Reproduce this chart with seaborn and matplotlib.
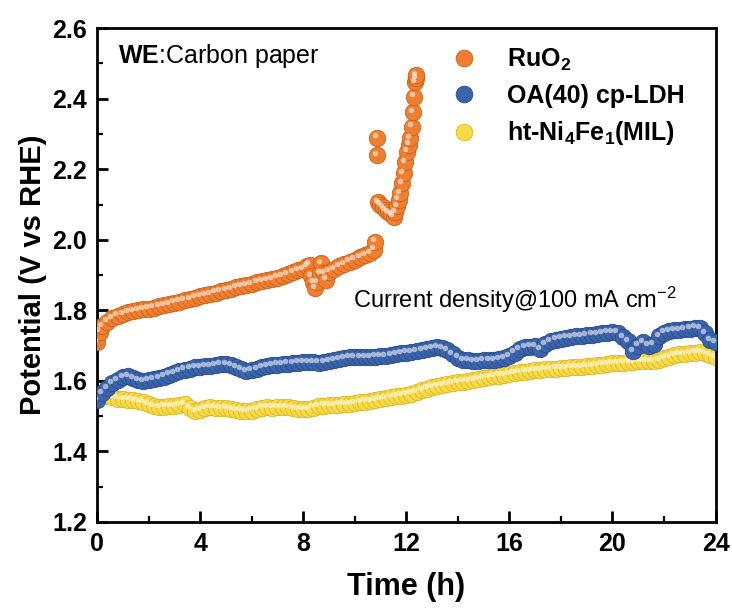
import numpy as np
import pandas as pd
import seaborn as sns
import matplotlib
matplotlib.use("Agg")
import matplotlib.pyplot as plt
from matplotlib.transforms import offset_copy
from matplotlib.lines import Line2D
from matplotlib.ticker import MultipleLocator

# ---------------- data ----------------
ruo2_t = [0.0, 0.1, 0.2, 0.4, 0.6, 0.8, 1.0, 1.2, 1.4, 1.6, 1.8, 2.0, 2.2, 2.4, 2.6, 2.8,
          3.0, 3.2, 3.4, 3.6, 3.8, 4.0, 4.2, 4.4, 4.6, 4.8, 5.0, 5.2, 5.4, 5.6, 5.8, 6.0,
          6.2, 6.4, 6.6, 6.8, 7.0, 7.2, 7.4, 7.6, 7.8, 8.0, 8.15, 8.25, 8.3, 8.4, 8.47,
          8.55, 8.65, 8.7, 8.8, 8.9, 9.0, 9.2, 9.4, 9.6, 9.8, 10.0, 10.2, 10.4, 10.6,
          10.75, 10.8, 10.87, 10.88, 10.92, 11.0, 11.1, 11.2, 11.3, 11.4, 11.51, 11.58,
          11.64, 11.7, 11.77, 11.84, 11.9, 11.97, 12.03, 12.1, 12.16, 12.22, 12.26,
          12.31, 12.35, 12.38, 12.39]
ruo2_v = [1.710, 1.740, 1.755, 1.768, 1.778, 1.785, 1.790, 1.794, 1.797, 1.800, 1.803,
          1.805, 1.808, 1.811, 1.814, 1.818, 1.822, 1.825, 1.829, 1.832, 1.836, 1.840,
          1.843, 1.847, 1.850, 1.854, 1.858, 1.861, 1.865, 1.868, 1.872, 1.875, 1.879,
          1.882, 1.886, 1.889, 1.893, 1.898, 1.903, 1.908, 1.913, 1.918, 1.925, 1.930,
          1.897, 1.880, 1.862, 1.880, 1.905, 1.935, 1.905, 1.887, 1.910, 1.918, 1.925,
          1.932, 1.938, 1.944, 1.950, 1.956, 1.963, 1.972, 1.995, 2.240, 2.290, 2.108,
          2.100, 2.092, 2.085, 2.078, 2.072, 2.066, 2.078, 2.095, 2.114, 2.133, 2.160,
          2.190, 2.220, 2.250, 2.270, 2.289, 2.321, 2.363, 2.406, 2.448, 2.458, 2.467]

ldh_t = [round(0.2 * i, 1) for i in range(121)]
ldh_v = [1.545, 1.565, 1.580, 1.593, 1.603, 1.610, 1.613, 1.608, 1.602, 1.600,
         1.602, 1.605, 1.608, 1.612, 1.618, 1.623, 1.628, 1.632, 1.635, 1.638,
         1.640, 1.641, 1.643, 1.645, 1.647, 1.648, 1.645, 1.640, 1.633, 1.628,
         1.630, 1.634, 1.638, 1.641, 1.644, 1.646, 1.647, 1.649, 1.651, 1.652,
         1.653, 1.654, 1.653, 1.652, 1.653, 1.655, 1.658, 1.661, 1.665, 1.667,
         1.668, 1.667, 1.667, 1.668, 1.669, 1.670, 1.671, 1.672, 1.675, 1.678,
         1.680, 1.681, 1.685, 1.688, 1.690, 1.692, 1.695, 1.694, 1.688, 1.676,
         1.666, 1.660, 1.658, 1.657, 1.657, 1.658, 1.659, 1.660, 1.661, 1.664,
         1.670, 1.680, 1.690, 1.695, 1.697, 1.698, 1.690, 1.705, 1.712, 1.717,
         1.720, 1.723, 1.725, 1.727, 1.728, 1.729, 1.731, 1.733, 1.735, 1.737,
         1.738, 1.737, 1.725, 1.712, 1.685, 1.700, 1.710, 1.700, 1.705, 1.727,
         1.737, 1.741, 1.743, 1.744, 1.746, 1.748, 1.751, 1.750, 1.735, 1.715,
         1.710]

mil_t = [round(0.2 * i, 1) for i in range(121)]
mil_v = [1.555, 1.556, 1.556, 1.553, 1.550, 1.548, 1.547, 1.545, 1.543, 1.540,
         1.535, 1.528, 1.525, 1.527, 1.528, 1.528, 1.532, 1.535, 1.522, 1.515,
         1.518, 1.522, 1.525, 1.524, 1.522, 1.522, 1.520, 1.518, 1.516, 1.514,
         1.516, 1.520, 1.524, 1.525, 1.524, 1.525, 1.526, 1.525, 1.523, 1.521,
         1.520, 1.520, 1.524, 1.528, 1.530, 1.531, 1.532, 1.533, 1.534, 1.535,
         1.537, 1.539, 1.541, 1.543, 1.546, 1.549, 1.552, 1.554, 1.556, 1.558,
         1.561, 1.564, 1.569, 1.573, 1.578, 1.582, 1.586, 1.589, 1.591, 1.594,
         1.596, 1.598, 1.600, 1.603, 1.606, 1.608, 1.611, 1.613, 1.615, 1.617,
         1.620, 1.622, 1.624, 1.626, 1.628, 1.630, 1.631, 1.633, 1.634, 1.635,
         1.636, 1.637, 1.638, 1.639, 1.640, 1.641, 1.643, 1.644, 1.646, 1.648,
         1.650, 1.651, 1.652, 1.653, 1.654, 1.655, 1.655, 1.656, 1.656, 1.660,
         1.665, 1.668, 1.672, 1.675, 1.677, 1.679, 1.680, 1.681, 1.678, 1.672,
         1.668]

labels = ["RuO$_\\mathbf{2}$", "OA(40) cp-LDH", "ht-Ni$_\\mathbf{4}$Fe$_\\mathbf{1}$(MIL)"]
colors = ["#F07E2E", "#3B64AD", "#F7DA45"]
edge_colors = ["#C9621C", "#284B8A", "#D9B82A"]

xticks = [0, 4, 8, 12, 16, 20, 24]
yticks = [1.2, 1.4, 1.6, 1.8, 2.0, 2.2, 2.4, 2.6]

# ---------------- style ----------------
sns.set_theme(style="ticks")
plt.rcParams["font.family"] = ["Liberation Sans", "DejaVu Sans"]
plt.rcParams["mathtext.fontset"] = "custom"
plt.rcParams["mathtext.rm"] = "Liberation Sans"
plt.rcParams["mathtext.it"] = "Liberation Sans:italic"
plt.rcParams["mathtext.bf"] = "Liberation Sans:bold"
for key in ["text.color", "axes.labelcolor", "xtick.color", "ytick.color", "axes.edgecolor"]:
    plt.rcParams[key] = "black"

df = pd.concat([
    pd.DataFrame({"t": ruo2_t, "v": ruo2_v, "s": labels[0]}),
    pd.DataFrame({"t": ldh_t, "v": ldh_v, "s": labels[1]}),
    pd.DataFrame({"t": mil_t, "v": mil_v, "s": labels[2]}),
], ignore_index=True)

fig = plt.figure(figsize=(7.32, 6.13), dpi=100)
ax = fig.add_axes([0.1325, 0.1485, 0.845, 0.8055])

# draw order: yellow, blue, orange
order = [2, 1, 0]
hl = offset_copy(ax.transData, fig=fig, x=-1.6, y=1.6, units="points")
for i in order:
    sub = df[df["s"] == labels[i]]
    sns.scatterplot(data=sub, x="t", y="v", ax=ax, color=colors[i], s=140,
                    edgecolor=edge_colors[i], linewidth=0.6, legend=False, zorder=2 + (2 - i))
for i in order:
    sub = df[df["s"] == labels[i]]
    ax.scatter(sub["t"], sub["v"], s=16, color="white", alpha=0.55, linewidths=0,
               transform=hl, zorder=2.5 + (2 - i))

ax.set_xlim(0, 24)
ax.set_ylim(1.2, 2.6)
ax.set_xticks(xticks)
ax.set_yticks(yticks)
ax.set_xticklabels([str(x) for x in xticks])
ax.set_yticklabels([f"{y:.1f}" for y in yticks])
ax.xaxis.set_minor_locator(MultipleLocator(2))
ax.yaxis.set_minor_locator(MultipleLocator(0.1))
ax.tick_params(which="both", direction="in", top=False, right=False, width=2, color="black",
               labelcolor="black")
ax.tick_params(which="major", length=8, labelsize=18, pad=7)
ax.tick_params(which="minor", length=4, width=1.6)
for lab in ax.get_xticklabels() + ax.get_yticklabels():
    lab.set_fontweight("bold")
for sp in ax.spines.values():
    sp.set_visible(True)
    sp.set_linewidth(2)
    sp.set_color("black")

ax.set_xlabel("Time (h)", fontsize=22, fontweight="bold", labelpad=12, color="black")
ax.set_ylabel("Potential (V vs RHE)", fontsize=21, fontweight="bold", labelpad=4, color="black")

ax.text(0.034, 0.943, "$\\mathbf{WE}$:Carbon paper", transform=ax.transAxes,
        fontsize=18, va="center", ha="left", color="black")
ax.text(0.414, 0.449, "Current density@100 mA cm$^{-2}$", transform=ax.transAxes,
        fontsize=17, va="center", ha="left", color="black")

handles = [Line2D([], [], ls="none", marker="o", markersize=12, markerfacecolor=colors[i],
                  markeredgecolor=edge_colors[i], markeredgewidth=0.6) for i in range(3)]
leg = ax.legend(handles, labels, loc="upper left", bbox_to_anchor=(0.537, 1.008),
                frameon=False, handlelength=1.0, handletextpad=1.2, labelspacing=0.45,
                prop={"size": 18, "weight": "bold"})
for t in leg.get_texts():
    t.set_color("black")

fig.savefig("out.png", dpi=100, facecolor="white")
